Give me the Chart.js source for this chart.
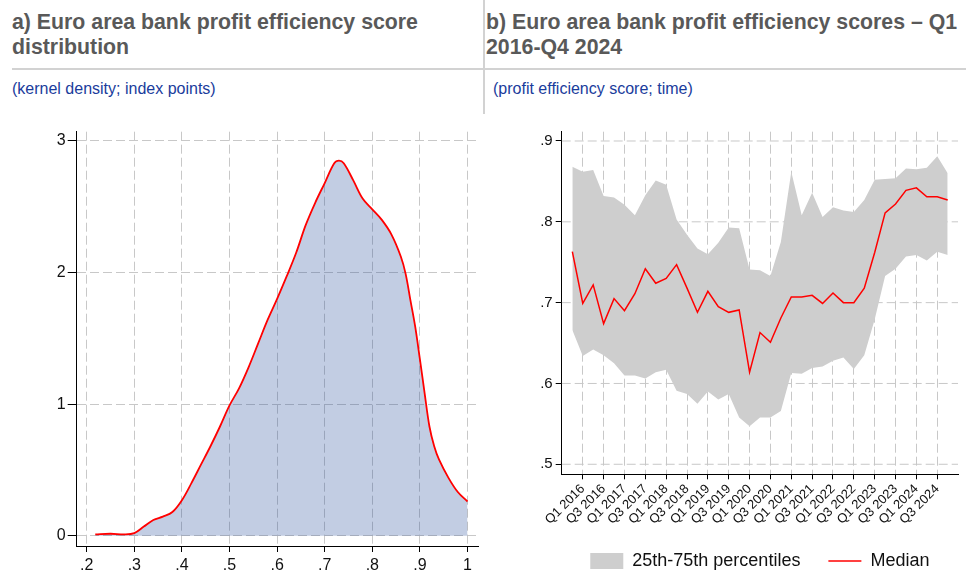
<!DOCTYPE html>
<html>
<head>
<meta charset="utf-8">
<script src="https://cdn.jsdelivr.net/npm/chart.js@4.4.1/dist/chart.umd.min.js"></script>
<style>
  body { margin: 0; width: 966px; height: 571px; overflow: hidden; background: #fff; position: relative;
         font-family: Arial, "Liberation Sans", sans-serif; }
  .title { position: absolute; top: 10px; font-weight: bold; font-size: 21.3px; line-height: 25px; color: #595959; white-space: nowrap; }
  .sub { position: absolute; top: 80px; font-size: 16px; color: #1a3c9c; white-space: nowrap; }
  .rule { position: absolute; background: #d2d2d2; }
  canvas { position: absolute; }
</style>
</head>
<body>
<div class="title" style="left:12px">a) Euro area bank profit efficiency score<br>distribution</div>
<div class="title" style="left:486px">b) Euro area bank profit efficiency scores – Q1<br>2016-Q4 2024</div>
<div class="rule" style="left:12px; top:68px; width:954px; height:2px"></div>
<div class="rule" style="left:483px; top:0; width:2px; height:114px"></div>
<div class="sub" style="left:12px">(kernel density; index points)</div>
<div class="sub" style="left:493px">(profit efficiency score; time)</div>
<canvas id="chartA" width="483" height="461" style="left:0; top:110px"></canvas>
<canvas id="chartB" width="483" height="470" style="left:483px; top:110px"></canvas>
<script>
// panel a: kernel density of profit efficiency scores
const densityX = [0.218, 0.25, 0.28, 0.30, 0.32, 0.34, 0.36, 0.38, 0.40, 0.42, 0.44, 0.46, 0.48, 0.50,
  0.52, 0.54, 0.56, 0.58, 0.60, 0.62, 0.64, 0.66, 0.68, 0.70, 0.72, 0.73, 0.74, 0.76, 0.78, 0.80,
  0.82, 0.84, 0.86, 0.87, 0.88, 0.89, 0.90, 0.91, 0.92, 0.93, 0.94, 0.96, 0.98, 1.00];
const densityY = [0.01, 0.015, 0.01, 0.02, 0.07, 0.12, 0.145, 0.18, 0.27, 0.40, 0.54, 0.68, 0.83, 0.99,
  1.12, 1.28, 1.46, 1.64, 1.80, 1.97, 2.15, 2.36, 2.53, 2.68, 2.83, 2.85, 2.83, 2.70, 2.56, 2.48,
  2.40, 2.29, 2.12, 1.99, 1.79, 1.59, 1.34, 1.08, 0.83, 0.68, 0.58, 0.44, 0.33, 0.26];
const xTicksA = [0.2, 0.3, 0.4, 0.5, 0.6, 0.7, 0.8, 0.9, 1];
const yTicksA = [0, 1, 2, 3];

// panel b: quarterly scores
const quarters = ['Q4 2015',
  'Q1 2016', 'Q2 2016', 'Q3 2016', 'Q4 2016', 'Q1 2017', 'Q2 2017', 'Q3 2017', 'Q4 2017',
  'Q1 2018', 'Q2 2018', 'Q3 2018', 'Q4 2018', 'Q1 2019', 'Q2 2019', 'Q3 2019', 'Q4 2019',
  'Q1 2020', 'Q2 2020', 'Q3 2020', 'Q4 2020', 'Q1 2021', 'Q2 2021', 'Q3 2021', 'Q4 2021',
  'Q1 2022', 'Q2 2022', 'Q3 2022', 'Q4 2022', 'Q1 2023', 'Q2 2023', 'Q3 2023', 'Q4 2023',
  'Q1 2024', 'Q2 2024', 'Q3 2024', 'Q4 2024'];
const p75 = [0.868, 0.862, 0.864, 0.832, 0.830, 0.821, 0.808, 0.833, 0.851, 0.846, 0.803, 0.784,
  0.767, 0.760, 0.774, 0.793, 0.792, 0.741, 0.740, 0.733, 0.775, 0.862, 0.808, 0.836, 0.806,
  0.818, 0.814, 0.812, 0.827, 0.852, 0.853, 0.854, 0.866, 0.865, 0.867, 0.881, 0.860];
const p25 = [0.666, 0.634, 0.642, 0.635, 0.625, 0.610, 0.610, 0.606, 0.614, 0.617, 0.591, 0.587,
  0.575, 0.590, 0.580, 0.587, 0.558, 0.547, 0.558, 0.558, 0.566, 0.613, 0.612, 0.619, 0.621,
  0.628, 0.632, 0.618, 0.635, 0.679, 0.733, 0.742, 0.757, 0.759, 0.752, 0.763, 0.759];
const median = [0.763, 0.699, 0.722, 0.674, 0.705, 0.690, 0.711, 0.742, 0.724, 0.730, 0.747, 0.718,
  0.688, 0.714, 0.695, 0.688, 0.691, 0.614, 0.663, 0.651, 0.681, 0.707, 0.707, 0.709, 0.699,
  0.712, 0.700, 0.700, 0.718, 0.762, 0.811, 0.822, 0.839, 0.842, 0.831, 0.831, 0.827];
const yTicksB = [0.5, 0.6, 0.7, 0.8, 0.9];
const tickIdxB = quarters.map((q, i) => i).filter(i => i % 2 === 1);

const gridGray = '#c8c8c8';
const xMinB = -1.02, xMaxB = 36.99;

function fmt(v) {
  if (v === 0) return '0';
  if (v === 1) return '1';
  return String(+v.toFixed(2)).replace(/^0/, '');
}

// common look of an axis: dashed grey grid, black solid axis line and ticks
function axis(tickValues, o) {
  return {
    type: 'linear',
    min: o.min,
    max: o.max,
    afterBuildTicks: s => { s.ticks = tickValues.map(v => ({ value: v })); },
    afterFit: o.fit,
    grid: { color: gridGray, lineWidth: 1, borderDash: [9, 4], tickColor: '#000',
            tickLength: o.tickLength, tickWidth: 1, tickBorderDash: [],
            drawOnChartArea: o.onArea !== false },
    border: { color: '#000', width: 1, dash: [9, 4], dashOffset: 0 },
    ticks: { callback: o.label || fmt, color: '#111', font: { size: o.fontSize, family: 'Arial' },
             autoSkip: false, padding: o.padding, minRotation: o.rotation || 0, maxRotation: o.rotation || 0 }
  };
}

new Chart(document.getElementById('chartA'), {
  type: 'line',
  data: {
    datasets: [{
      data: densityX.map((x, i) => ({ x: x, y: densityY[i] })),
      borderColor: '#ff0000',
      borderWidth: 1.8,
      backgroundColor: 'rgba(30,70,150,0.27)',
      fill: 'origin',
      pointRadius: 0,
      tension: 0.35
    }]
  },
  options: {
    responsive: false,
    animation: false,
    devicePixelRatio: 1,
    layout: { padding: { left: 40, right: 5, top: 21.7, bottom: 0 } },
    plugins: { legend: { display: false }, tooltip: { enabled: false } },
    scales: {
      x: axis(xTicksA, { min: 0.179, max: 1.022, fit: s => { s.height = 25; }, tickLength: 6, padding: 4, fontSize: 16 }),
      y: axis(yTicksA, { min: -0.078, max: 3.07, fit: s => { s.width = 36.7; }, tickLength: 9, padding: 2, fontSize: 16 })
    }
  }
});

// horizontal grid of panel b as flat dashed series at each y tick, drawn first (under the band)
const gridSeriesB = yTicksB.map(v => ({
  label: 'grid',
  data: [{ x: xMinB, y: v }, { x: xMaxB, y: v }],
  borderColor: gridGray, borderWidth: 1, borderDash: [9, 4], borderCapStyle: 'butt',
  pointRadius: 0, fill: false, order: 10
}));

new Chart(document.getElementById('chartB'), {
  type: 'line',
  data: {
    datasets: [
      { label: '25th-75th percentiles', data: p75.map((y, i) => ({ x: i, y: y })),
        backgroundColor: '#cecece', borderColor: 'rgba(0,0,0,0)', borderWidth: 0, pointRadius: 0, pointBorderWidth: 0,
        pointStyle: 'rect', fill: '+1', order: 2 },
      { label: 'p25', data: p25.map((y, i) => ({ x: i, y: y })),
        backgroundColor: '#cecece', borderColor: 'rgba(0,0,0,0)', borderWidth: 0, pointRadius: 0, fill: false, order: 3 },
      { label: 'Median', data: median.map((y, i) => ({ x: i, y: y })),
        borderColor: '#ff0000', backgroundColor: '#ff0000', borderWidth: 1.5, pointBorderWidth: 1.5,
        pointRadius: 0, pointStyle: 'line', fill: false, order: 1 }
    ].concat(gridSeriesB)
  },
  options: {
    responsive: false,
    animation: false,
    devicePixelRatio: 1,
    layout: { padding: { left: 40, right: 8, top: 21.7, bottom: 0 } },
    plugins: {
      tooltip: { enabled: false },
      legend: {
        position: 'bottom',
        fullSize: false,
        labels: {
          usePointStyle: true, pointStyleWidth: 33, boxHeight: 16, padding: 28,
          color: '#111', font: { size: 18, family: 'Arial' },
          filter: item => item.datasetIndex === 0 || item.datasetIndex === 2,
          sort: (a, b) => a.datasetIndex - b.datasetIndex
        }
      }
    },
    scales: {
      x: axis(tickIdxB, { min: xMinB, max: xMaxB, fit: s => { s.height = 49.7; }, tickLength: 5, padding: 2,
                          fontSize: 13, rotation: 45, label: v => quarters[v] }),
      y: axis(yTicksB, { min: 0.4876, max: 0.9115, fit: s => { s.width = 38.7; }, tickLength: 6, padding: 3,
                          fontSize: 15, onArea: false })
    }
  }
});
</script>
</body>
</html>
